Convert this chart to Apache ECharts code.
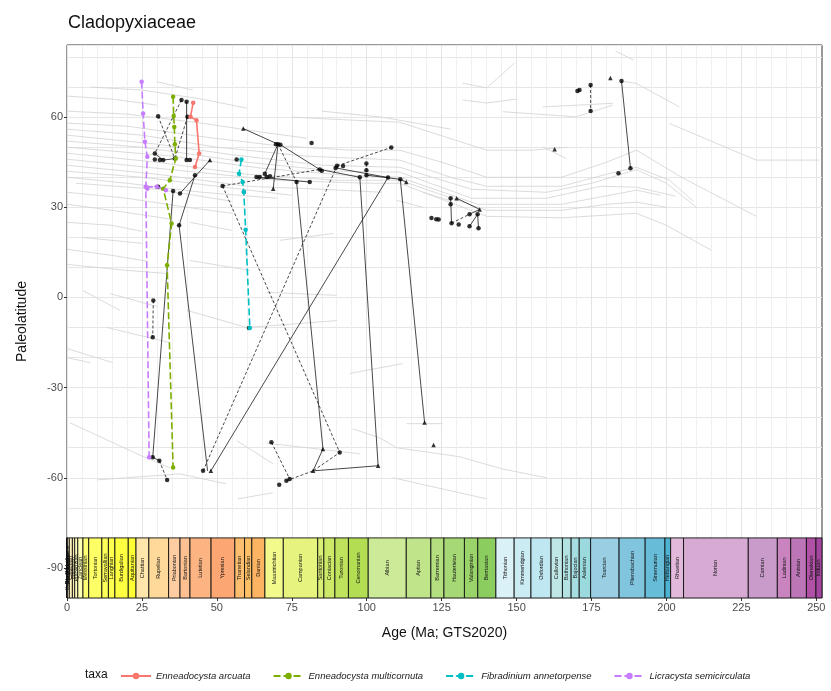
<!DOCTYPE html>
<html>
<head>
<meta charset="utf-8">
<script src="https://cdn.jsdelivr.net/npm/echarts@6.0.0/dist/echarts.min.js"></script>
<style>html,body{margin:0;padding:0;background:#fff;}#c{width:831px;height:691px;}</style>
</head>
<body>
<div id="c"></div>
<script>
// ---------- DATA ----------
const xTicks = [0, 25, 50, 75, 100, 125, 150, 175, 200, 225, 250];
const yTicks = [-90, -60, -30, 0, 30, 60];
const bandTop = -80, bandBottom = -100;

const stageNames = ['Meghalayan','Northgrippian','Greenlandian','Upper Pleistocene','Chibanian','Calabrian','Gelasian','Piacenzian','Zanclean','Messinian','Tortonian','Serravallian','Langhian','Burdigalian','Aquitanian','Chattian','Rupelian','Priabonian','Bartonian','Lutetian','Ypresian','Thanetian','Selandian','Danian','Maastrichtian','Campanian','Santonian','Coniacian','Turonian','Cenomanian','Albian','Aptian','Barremian','Hauterivian','Valanginian','Berriasian','Tithonian','Kimmeridgian','Oxfordian','Callovian','Bathonian','Bajocian','Aalenian','Toarcian','Pliensbachian','Sinemurian','Hettangian','Rhaetian','Norian','Carnian','Ladinian','Anisian','Olenekian','Induan'];
const stageBounds = [0,0.0042,0.0082,0.0117,0.129,0.774,1.80,2.58,3.60,5.333,7.246,11.63,13.82,15.98,20.44,23.03,27.3,33.9,37.71,41.03,48.07,56.0,59.24,61.66,66.04,72.17,83.65,85.7,89.39,93.9,100.5,113.2,121.4,125.77,132.6,137.05,143.1,149.2,154.8,161.5,165.3,168.2,170.9,174.7,184.2,192.9,199.5,201.4,205.7,227.3,237.0,241.46,246.7,249.88,251.9];
const stageColors = ['#FDEDEC','#FDECE4','#FEECDB','#FFF2D3','#FFF2C7','#FFF2BA','#FFEDB3','#FFFFBF','#FFFFB3','#FFFF73','#FFFF66','#FFFF59','#FFFF4D','#FFFF41','#FFFF33','#FEE6AA','#FED99A','#FDCDA1','#FDC091','#FCB482','#FCA773','#FDBF6F','#FEBF65','#FDB462','#F2FA8C','#E6F47F','#D9EF74','#CCE968','#BFE35D','#B3DE53','#CCEA97','#BFE48A','#B3DF7F','#A6D975','#99D36A','#8CCD60','#D9F1F7','#CCECF4','#BFE7F1','#BFE7E5','#B3E2E3','#A6DDE0','#9AD9DD','#99CEE3','#80C5DD','#67BCD8','#4EB3D3','#E3B9DB','#D6AAD3','#C99BCB','#C983BF','#BC75B7','#B051A5','#A4469F'];

// taxa paths [age Ma, paleolatitude]
const taxaNames = ['Enneadocysta arcuata','Enneadocysta multicornuta','Fibradinium annetorpense','Licracysta semicirculata'];
const arcuata = [[42.1,64.8],[41.2,60.1],[43.2,59],[44.1,47.9],[42.7,43.4]];
const multicornuta = [[35.4,66.8],[35.6,60.4],[35.8,56.7],[36,51],[36.3,46.2],[34.3,39],[32.1,36.2],[34.9,24.6],[33.4,10.7],[35.4,-56.6]];
const annetorpense = [[58.2,45.9],[57.4,41.2],[58.6,38.4],[59,35.1],[59.6,22.5],[61,-10.2]];
const semicirculataA = [[24.9,71.8],[25.4,61.2],[26,51.8],[26.8,46.8],[26.3,36.8],[26.8,36.2],[27.4,-53.2]];
const semicirculataB = [[26.3,36.8],[29.9,36.8],[33,35.7]];

// other occurrence links (black)
const solidLinks = [
  [[39.9,65.1],[39.9,45.7]],
  [[29.3,47.9],[32.1,45.7],[36,46.2]],
  [[47.7,45.7],[37.7,34.6]],
  [[42.7,40.7],[37.4,24],[46.9,-57.7]],
  [[35.4,35.4],[28.6,-53.2],[30.8,-54.3]],
  [[58.8,56.2],[70.4,51]],
  [[70.4,51],[66,41.2]],
  [[70.4,51],[68.8,36.2]],
  [[71.2,50.8],[84.3,42.6]],
  [[63.2,40.1],[81,38.4]],
  [[76.6,38.4],[85.4,-50.4],[82.1,-57.7],[103.8,-56],[97.7,40]],
  [[84.3,42.6],[97.7,40]],
  [[89.6,43.1],[107.1,39.9]],
  [[48,-57.7],[107.1,39.9]],
  [[99.9,40.7],[111.2,39.3],[113.2,38.4]],
  [[111.2,39.3],[119.3,-41.6]],
  [[188,43],[185,72]],
  [[130,33],[137.7,29.3]],
  [[128,33],[128.3,24.7]],
  [[134.3,27.7],[137.7,29.3]],
  [[137,27.7],[137.3,23]],
  [[134.3,23.7],[137,27.7]]
];
const dashedLinks = [
  [[30.4,60.3],[36,46.2]],
  [[38.2,65.7],[29.3,47.9]],
  [[40.2,60.1],[36,46.2]],
  [[28.8,-1],[28.6,-13.2]],
  [[30.8,-54.3],[33.4,-60.7]],
  [[45.4,-57.7],[90.1,43.8]],
  [[51.9,37.1],[84.3,42.6]],
  [[51.9,37.1],[91,-51.6],[82.1,-57.7]],
  [[68.2,-48.2],[74.3,-60.4]],
  [[73.2,-61],[82.1,-57.7]],
  [[70.4,51],[76.6,38.4]],
  [[90.1,43.8],[108.2,49.9]],
  [[174.7,70.7],[174.7,62]],
  [[99.9,44.6],[99.9,40.7]],
  [[128.3,24.7],[134.3,27.7]]
];
const circleSites = [[30.4,60.3],[38.2,65.7],[39.9,65.1],[40.2,60.1],[29.3,47.9],[29.3,45.9],[31,45.7],[32.1,45.7],[36,46.2],[39.9,45.7],[41,45.7],[42.7,40.7],[35.4,35.4],[37.7,34.6],[37.4,24],[30.4,36.8],[56.6,45.9],[51.9,37.1],[59,35.1],
  [28.8,-1],[28.6,-13.2],[28.6,-53.2],[30.8,-54.3],[33.4,-60.7],[45.4,-57.7],[68.2,-48.2],[70.8,-62.3],[73.2,-61],[74.3,-60.4],[91,-51.6],[60.7,-10.2],
  [69.7,51],[70.4,51],[71.2,50.8],[81.6,51.4],[63.2,40.1],[64.3,40.1],[66,41.2],[66.6,40.1],[67.7,40.3],[84.3,42.6],[85,42.2],[89.6,43.1],[90.1,43.8],[92.1,43.7],[97.7,40],[107.1,39.9],[111.2,39.3],[108.2,49.9],[99.9,44.6],[99.9,42.3],[99.9,40.7],[121.6,26.4],[123.2,26],[124,25.9],
  [128,33],[128,31],[134.3,27.7],[137,27.7],[128.3,24.7],[130.7,24.3],[134.3,23.7],[137.3,23],
  [170.3,68.7],[171,69],[174.7,70.7],[174.7,62],[185,72],[188,43],[184,41.3],[76.6,38.4],[81,38.4]];
const triangleSites = [[58.8,56.2],[68.8,36.2],[47.7,45.7],[48,-57.7],[82.1,-57.7],[85.4,-50.4],[103.8,-56],[119.3,-41.6],[122.3,-49.1],[113.2,38.4],[130,33],[137.7,29.3],[162.7,49.3],[181.3,73]];

// background paleolatitude tracks (grey)
const greyTracks = [
  [[0,58],[20,57],[45,53.5],[70,50.5],[95,49],[111,49],[125,45],[140,40],[165,40],[180,45],[190,49],[205,40],[230,27]],
  [[0,56],[25,54],[50,50],[80,47],[111,45.7],[128,40],[140,37],[165,37],[180,41],[190,43.3],[201,39],[209,32]],
  [[0,54],[30,51],[55,47.5],[85,44],[111,43.3],[135,36],[160,35],[175,38],[190,42.5],[200,38],[210,30]],
  [[0,52],[25,50],[60,45],[90,42],[111,41.7],[135,33],[160,33],[178,37],[190,36.7],[203,33.7]],
  [[0,50],[35,47],[65,43],[95,40.5],[111,40],[137,31],[165,31],[190,35.7],[198,34]],
  [[0,48],[30,45],[60,41],[90,39],[111,39],[140,29],[165,29],[180,31],[190,31.7],[200,30]],
  [[0,46],[40,42],[70,39],[100,38],[111,38],[140,27],[165,26.5],[190,28],[200,24],[215,15.7]],
  [[0,44],[30,41],[60,37],[85,36],[105,35]],
  [[0,42],[25,40],[50,37],[75,34]],
  [[0,40],[20,38],[45,35],[70,33]],
  [[3,38],[30,36],[55,32]],
  [[0,35],[20,33],[40,30],[55,28]],
  [[0,31],[15,29],[35,26]],
  [[0,25],[15,24],[25,22]],
  [[0,67],[15,66],[30,64]],
  [[8,70],[25,69],[45,66],[60,63]],
  [[0,62],[20,61],[45,58],[65,55],[80,53]],
  [[29.9,71.8],[42,69]],
  [[75,60],[95,59],[111,58.3],[140,49],[155,49],[167,50]],
  [[85,62],[105,60],[128,56]],
  [[132,71.3],[140,69.7],[149.3,78]],
  [[132,65.7],[140,64.7],[150,66]],
  [[145.4,61.8],[169.9,60.1],[182,64]],
  [[158.8,63.4],[182.1,64.6]],
  [[158.8,50.1],[166.6,46.2]],
  [[183,82],[189,79]],
  [[185,72],[190,71.2],[204.3,63.4]],
  [[201,57.9],[229.9,45.7],[251,45.7]],
  [[0,16],[15,14],[27,12]],
  [[0,11],[20,9],[33,8]],
  [[5,20],[25,18]],
  [[41,25],[55,22.3]],
  [[71,19],[89,21.3]],
  [[41,12.3],[61,9]],
  [[110,32.3],[118.7,30]],
  [[118.7,35],[127.7,32.3]],
  [[5.3,2.3],[17.7,-4.3]],
  [[14.3,1.3],[30,-3]],
  [[40,-4.3],[60,-10],[90,-7.7]],
  [[66.7,1.7],[90,0.7]],
  [[13.3,-10],[34.3,-15]],
  [[0,-17],[15.3,-21.7]],
  [[0,-20],[7.7,-21.7]],
  [[1,-41.7],[23.3,-52],[34.3,-56.7]],
  [[10,-60.7],[37.7,-58.7],[53,-62]],
  [[57,-67],[68.7,-65]],
  [[56.7,-47.7],[68.7,-55.3]],
  [[66.7,-48.5],[97.7,-52]],
  [[95.3,-43.7],[104.3,-46.7],[110,-50],[131,-53]],
  [[108.7,-60],[131,-65]],
  [[94.3,-25.3],[112,-22]],
  [[113.3,-42],[125.3,-42]],
  [[131,-53],[145,-57],[160,-60]],
  [[131,-65],[140,-67]]
];

// ---------- CHART ----------
const chart = echarts.init(document.getElementById('c'), null, {renderer: 'canvas'});
const FONT = 'Liberation Sans, Arial, Helvetica, sans-serif';
const taxaColors = ['#F8766D', '#7CAE00', '#00BFC4', '#C77CFF'];

const series = [];
greyTracks.forEach(t => series.push({type: 'line', data: t, symbol: 'none', silent: true, z: 1,
  lineStyle: {color: '#d2d2d2', width: 0.8}}));
solidLinks.forEach(t => series.push({type: 'line', data: t, symbol: 'none', silent: true, z: 3,
  lineStyle: {color: '#1a1a1a', width: 0.8}}));
dashedLinks.forEach(t => series.push({type: 'line', data: t, symbol: 'none', silent: true, z: 3,
  lineStyle: {color: '#1a1a1a', width: 0.8, type: [3, 2]}}));
series.push({type: 'scatter', data: circleSites, symbol: 'circle', symbolSize: 4.5, z: 4, silent: true,
  itemStyle: {color: '#000'}});
series.push({type: 'scatter', data: triangleSites, symbol: 'triangle', symbolSize: 4.5, z: 4, silent: true,
  itemStyle: {color: '#000'}});

const taxaData = [[arcuata], [multicornuta], [annetorpense], [semicirculataA, semicirculataB]];
const taxaDash = ['solid', [7, 3], [7, 3], [7, 3]];
taxaData.forEach((paths, k) => {
  paths.forEach(p => series.push({
    type: 'line', name: taxaNames[k], data: p, symbol: 'circle', symbolSize: 4.5, showSymbol: true, z: 5,
    lineStyle: {color: taxaColors[k], width: 1.6, type: taxaDash[k]},
    itemStyle: {color: taxaColors[k]}
  }));
});

series.push({
  type: 'custom', z: 6, silent: true,
  data: stageNames.map((n, i) => [stageBounds[i], stageBounds[i + 1], i]),
  renderItem: function (params, api) {
    const a = api.coord([api.value(0), bandTop]);
    const b = api.coord([api.value(1), bandBottom]);
    const i = api.value(2);
    return {
      type: 'group',
      children: [
        {type: 'rect', shape: {x: a[0], y: a[1], width: b[0] - a[0], height: b[1] - a[1]},
          style: {fill: stageColors[i], stroke: '#111', lineWidth: 0.9}},
        {type: 'text', x: (a[0] + b[0]) / 2, y: (a[1] + b[1]) / 2, rotation: Math.PI / 2, z2: 10,
          style: {text: stageNames[i], fontSize: 5.5, fontFamily: FONT, fill: '#111', align: 'center', verticalAlign: 'middle'}}
      ]
    };
  }
});

chart.setOption({
  animation: false,
  backgroundColor: '#fff',
  title: [
    {text: 'Cladopyxiaceae', left: 63, top: 9, textStyle: {fontSize: 18, fontWeight: 'normal', color: '#111', fontFamily: FONT}},
    {text: 'taxa', left: 80, top: 664, textStyle: {fontSize: 12, fontWeight: 'normal', color: '#111', fontFamily: FONT}}
  ],
  legend: {
    data: taxaNames, left: 115, top: 666, itemGap: 22, itemWidth: 30, itemHeight: 8,
    textStyle: {fontSize: 9.5, fontStyle: 'italic', color: '#222', fontFamily: FONT}
  },
  grid: {left: 67, right: 9, top: 45, bottom: 93, show: true, borderColor: '#333', borderWidth: 1, backgroundColor: '#fff'},
  xAxis: {
    type: 'value', min: 0, max: 251.9, interval: 25,
    name: 'Age (Ma; GTS2020)', nameLocation: 'middle', nameGap: 28,
    nameTextStyle: {fontSize: 14, color: '#111', fontFamily: FONT},
    axisLine: {show: false, onZero: false},
    axisTick: {show: true, length: 3, customValues: xTicks, lineStyle: {color: '#333'}},
    axisLabel: {customValues: xTicks, color: '#4d4d4d', fontSize: 11, margin: 4, fontFamily: FONT},
    splitLine: {show: true, lineStyle: {color: '#e4e4e4', width: 1}},
    minorTick: {show: false, splitNumber: 5},
    minorSplitLine: {show: true, lineStyle: {color: '#ececec', width: 0.8}}
  },
  yAxis: [
    {
      type: 'value', min: -100, max: 84,
      name: 'Paleolatitude', nameLocation: 'middle', nameGap: 38,
      nameTextStyle: {fontSize: 14, color: '#111', fontFamily: FONT},
      axisLine: {show: false, onZero: false},
      axisTick: {show: true, length: 3, customValues: yTicks, lineStyle: {color: '#333'}},
      axisLabel: {customValues: yTicks, color: '#4d4d4d', fontSize: 11, margin: 4, fontFamily: FONT},
      splitLine: {show: false}
    },
    {
      type: 'value', min: -100, max: 84, interval: 10, position: 'left',
      axisLine: {show: false, onZero: false}, axisTick: {show: false}, axisLabel: {show: false},
      splitLine: {show: true, lineStyle: {color: '#e6e6e6', width: 1}}
    }
  ],
  series: series
});
</script>
</body>
</html>
